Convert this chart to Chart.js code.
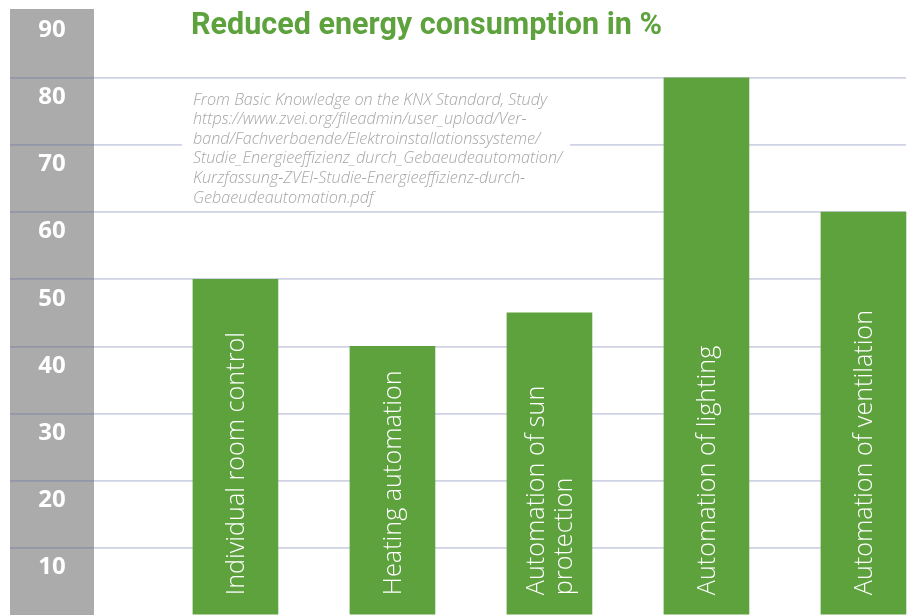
<!DOCTYPE html>
<html>
<head>
<meta charset="utf-8">
<script src="https://cdn.jsdelivr.net/npm/chart.js@4.4.1/dist/chart.umd.min.js"></script>
<style>
  html, body { margin: 0; padding: 0; background: #ffffff; overflow: hidden; }
  #wrap { position: relative; width: 913px; height: 615px; }
</style>
</head>
<body>
<div id="wrap"><canvas id="c"></canvas></div>
<script>
// ---- data ----
const categories = [
  ["Individual room control"],
  ["Heating automation"],
  ["Automation of sun", "protection"],
  ["Automation of lighting"],
  ["Automation of ventilation"]
];
const reduction = [50, 40, 45, 80, 60];
const yTickLabels = [90, 80, 70, 60, 50, 40, 30, 20, 10];
const titleText = "Reduced energy consumption in %";
const sourceLines = [
  "From Basic Knowledge on the KNX Standard, Study",
  "https://www.zvei.org/fileadmin/user_upload/Ver-",
  "band/Fachverbaende/Elektroinstallationssysteme/",
  "Studie_Energieeffizienz_durch_Gebaeudeautomation/",
  "Kurzfassung-ZVEI-Studie-Energieeffizienz-durch-",
  "Gebaeudeautomation.pdf"
];

// ---- style ----
const GREEN = '#5da23d';
const GRAY_BAND = '#ababab';
const GRID = 'rgba(85,95,160,0.28)';

const decorPlugin = {
  id: 'decor',
  beforeDraw(chart) {
    const ctx = chart.ctx;
    const y = chart.scales.y;
    ctx.save();
    ctx.fillStyle = '#ffffff';
    ctx.fillRect(0, 0, chart.width, chart.height);
    ctx.fillStyle = GRAY_BAND;
    const top = y.getPixelForValue(90) - 1.6;
    ctx.fillRect(10, top, 84, chart.height - top);
    ctx.restore();
  },
  beforeDatasetsDraw(chart) {
    const ctx = chart.ctx;
    ctx.save();
    ctx.fillStyle = '#ffffff';
    ctx.fillRect(182, 86, 388, 119);
    ctx.restore();
  },
  afterDatasetsDraw(chart) {
    const ctx = chart.ctx;
    const meta = chart.getDatasetMeta(0);
    ctx.save();
    ctx.fillStyle = '#ffffff';
    ctx.font = '300 25.2px "Open Sans"';
    ctx.textAlign = 'left';
    ctx.textBaseline = 'middle';
    meta.data.forEach((bar, i) => {
      const lines = categories[i];
      const lh = 28.5;
      const n = lines.length;
      lines.forEach((ln, j) => {
        const cx = bar.x + 1.5 + (j - (n - 1) / 2) * lh;
        ctx.save();
        ctx.translate(cx, bar.base - 19);
        ctx.rotate(-Math.PI / 2);
        ctx.fillText(ln, 0, 0);
        ctx.restore();
      });
    });
    ctx.restore();
  },
  afterDraw(chart) {
    const ctx = chart.ctx;
    const y = chart.scales.y;
    ctx.save();
    // y tick labels
    ctx.fillStyle = '#ffffff';
    ctx.font = 'bold 24px "Open Sans"';
    ctx.textAlign = 'center';
    ctx.textBaseline = 'middle';
    yTickLabels.forEach(v => {
      ctx.fillText(String(v), 52, y.getPixelForValue(v) + 19.5);
    });
    // title
    ctx.fillStyle = GREEN;
    ctx.font = 'bold 31px Roboto';
    ctx.textAlign = 'left';
    ctx.textBaseline = 'alphabetic';
    const w = ctx.measureText(titleText).width;
    const sx = 471 / w;
    ctx.save();
    ctx.translate(191, 34);
    ctx.scale(sx, 1);
    ctx.fillText(titleText, 0, 0);
    ctx.restore();
    // source note
    ctx.fillStyle = '#a6a6a6';
    ctx.font = 'italic 300 16.2px "Open Sans"';
    ctx.textBaseline = 'middle';
    sourceLines.forEach((ln, i) => {
      ctx.fillText(ln, 193, 100 + i * 19.6);
    });
    ctx.restore();
  }
};

const chart = new Chart(document.getElementById('c'), {
  type: 'bar',
  data: {
    datasets: [{
      data: reduction.map((v, i) => ({ x: i, y: v })),
      backgroundColor: GREEN,
      borderWidth: 0,
      barThickness: 85,
      clip: false
    }]
  },
  options: {
    responsive: true,
    maintainAspectRatio: false,
    animation: false,
    devicePixelRatio: 1,
    layout: { padding: { top: 10.6, left: 10, right: 7, bottom: 0 } },
    plugins: { legend: { display: false }, tooltip: { enabled: false }, title: { display: false } },
    scales: {
      x: {
        type: 'linear',
        display: false,
        min: -1.436,
        max: 4.271,
        offset: false
      },
      y: {
        min: 0,
        max: 90,
        ticks: { display: false, stepSize: 10 },
        border: { display: false },
        grid: {
          drawTicks: false,
          lineWidth: 1.7,
          color: (c) => (c.tick && c.tick.value > 0 && c.tick.value < 90) ? GRID : 'rgba(0,0,0,0)'
        },
        afterFit(s) { s.width = 0; }
      }
    }
  },
  plugins: [decorPlugin]
});
</script>
</body>
</html>
